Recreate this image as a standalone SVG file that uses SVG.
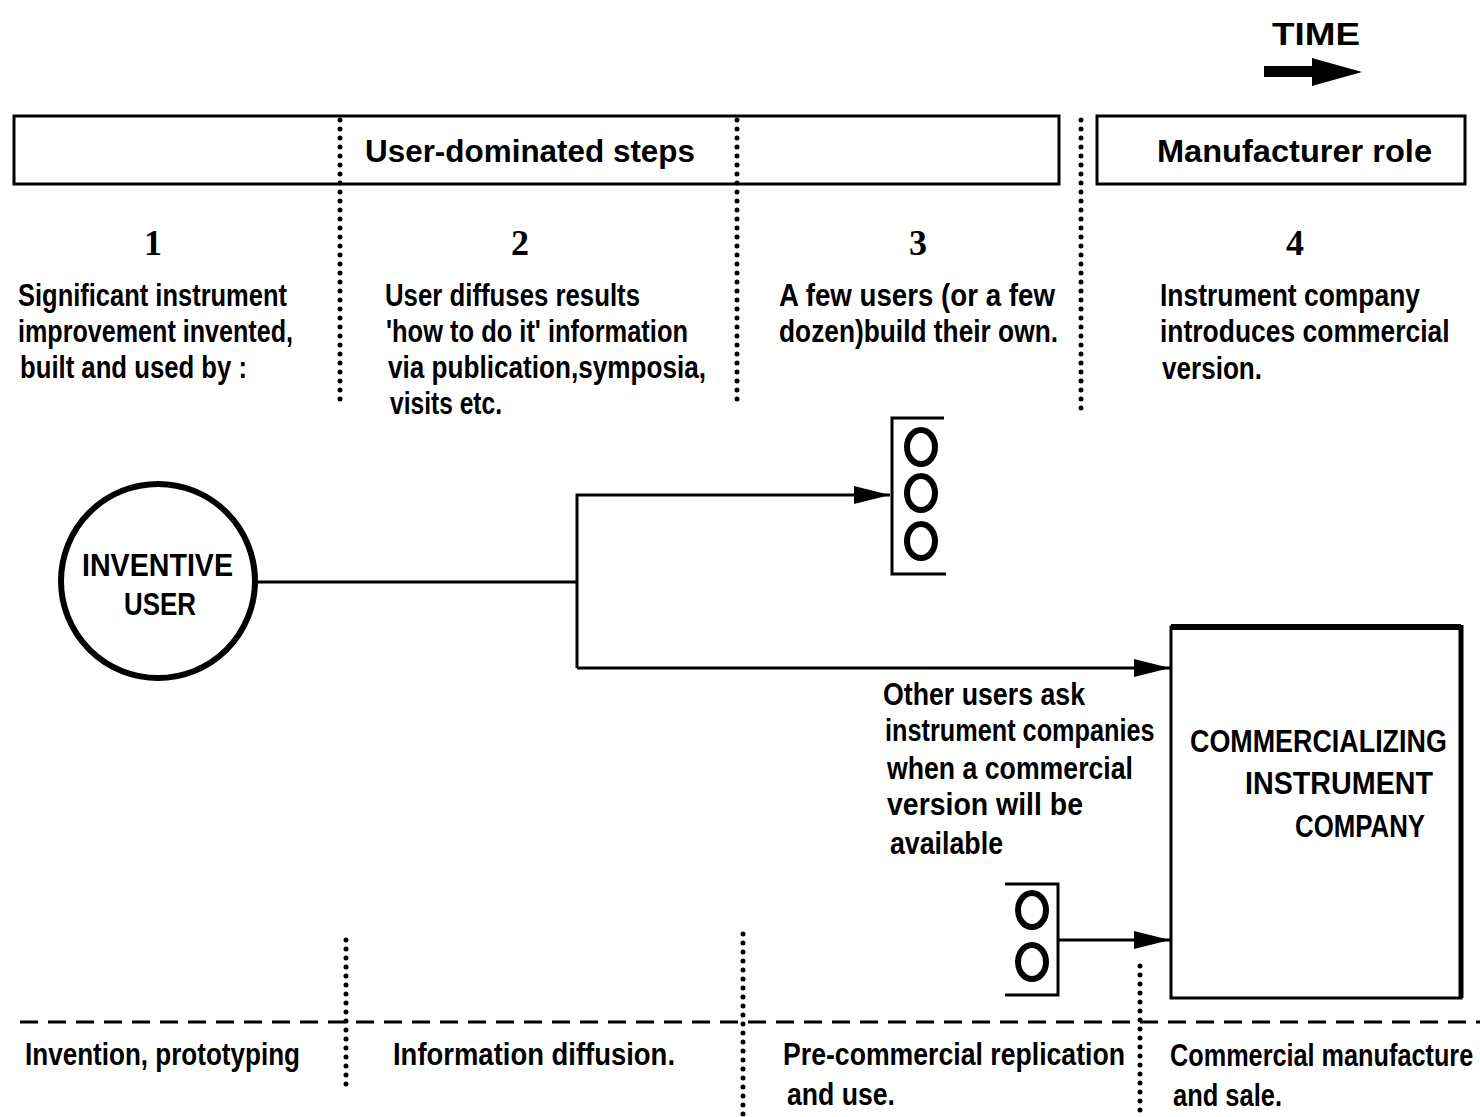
<svg xmlns="http://www.w3.org/2000/svg" width="1480" height="1117" viewBox="0 0 1480 1117">
<defs>
<marker id="ah" markerWidth="36" markerHeight="18" refX="36" refY="9" orient="auto" markerUnits="userSpaceOnUse">
<path d="M0,0 L36,9 L0,18 Z" fill="#000"/>
</marker>
</defs>
<style>
.t{font-family:"Liberation Sans",Arial,sans-serif;font-weight:bold;font-size:32px;fill:#000}
.n{font-family:"Liberation Serif","Times New Roman",serif;font-weight:bold;font-size:36px;fill:#000;text-anchor:middle}
.dot{stroke:#000;stroke-width:5;stroke-linecap:round;stroke-dasharray:0 9;fill:none}
.dash{stroke:#000;stroke-width:3;stroke-dasharray:18 10;fill:none}
.ln{stroke:#000;stroke-width:3;fill:none}
.oc{stroke:#000;stroke-width:6;fill:none}
</style>
<rect width="1480" height="1117" fill="#fff"/>

<g id="time">
<text class="t" x="1272" y="45" textLength="88" lengthAdjust="spacingAndGlyphs">TIME</text>
<rect x="1264" y="66" width="50" height="11" fill="#000"/>
<path d="M1312,58 L1362,72 L1312,86 Z" fill="#000"/>
</g>

<g id="header-user">
<rect x="14" y="116" width="1045" height="68" class="ln"/>
<text class="t" x="365" y="162" textLength="330" lengthAdjust="spacingAndGlyphs">User-dominated steps</text>
</g>
<g id="header-manufacturer">
<rect x="1097" y="116" width="368" height="68" class="ln"/>
<text class="t" x="1157" y="162" textLength="275" lengthAdjust="spacingAndGlyphs">Manufacturer role</text>
</g>

<g id="dividers">
<line class="dot" x1="340" y1="120" x2="340" y2="400"/>
<line class="dot" x1="737" y1="120" x2="737" y2="405"/>
<line class="dot" x1="1081" y1="120" x2="1081" y2="410"/>
<line class="dot" x1="346" y1="940" x2="346" y2="1090"/>
<line class="dot" x1="743" y1="934" x2="743" y2="1117"/>
<line class="dot" x1="1140" y1="966" x2="1140" y2="1117"/>
<line class="dash" x1="20" y1="1022" x2="1480" y2="1022"/>
</g>

<g id="step1">
<text class="n" x="153" y="255">1</text>
<text class="t" x="18" y="306" textLength="269" lengthAdjust="spacingAndGlyphs">Significant instrument</text>
<text class="t" x="18" y="342" textLength="275" lengthAdjust="spacingAndGlyphs">improvement invented,</text>
<text class="t" x="20" y="378" textLength="227" lengthAdjust="spacingAndGlyphs">built and used by :</text>
</g>
<g id="step2">
<text class="n" x="520" y="255">2</text>
<text class="t" x="385" y="306" textLength="255" lengthAdjust="spacingAndGlyphs">User diffuses results</text>
<text class="t" x="386" y="342" textLength="302" lengthAdjust="spacingAndGlyphs">'how to do it' information</text>
<text class="t" x="388" y="378" textLength="318" lengthAdjust="spacingAndGlyphs">via publication,symposia,</text>
<text class="t" x="390" y="414" textLength="112" lengthAdjust="spacingAndGlyphs">visits etc.</text>
</g>
<g id="step3">
<text class="n" x="918" y="255">3</text>
<text class="t" x="779" y="306" textLength="276" lengthAdjust="spacingAndGlyphs">A few users (or a few</text>
<text class="t" x="779" y="342" textLength="279" lengthAdjust="spacingAndGlyphs">dozen)build their own.</text>
</g>
<g id="step4">
<text class="n" x="1295" y="255">4</text>
<text class="t" x="1160" y="306" textLength="260" lengthAdjust="spacingAndGlyphs">Instrument company</text>
<text class="t" transform="translate(1160,342) scale(0.8,1)" x="0" y="0" textLength="362" lengthAdjust="spacingAndGlyphs">introduces commercial</text>
<text class="t" x="1162" y="379" textLength="100" lengthAdjust="spacingAndGlyphs">version.</text>
</g>

<g id="inventive-user">
<circle cx="158" cy="581" r="97" stroke="#000" stroke-width="6" fill="none"/>
<text class="t" x="82" y="576" textLength="151" lengthAdjust="spacingAndGlyphs">INVENTIVE</text>
<text class="t" x="124" y="615" textLength="72" lengthAdjust="spacingAndGlyphs">USER</text>
</g>

<g id="few-users">
<path class="ln" d="M944,418 L892,418 L892,574 L946,574"/>
<ellipse class="oc" cx="921" cy="447" rx="14" ry="17"/>
<ellipse class="oc" cx="921" cy="493" rx="14" ry="17"/>
<ellipse class="oc" cx="921" cy="541" rx="14" ry="17"/>
</g>

<g id="other-users">
<path class="ln" d="M1005,884 L1058,884 L1058,995 L1005,995"/>
<ellipse class="oc" cx="1032" cy="910" rx="14" ry="17"/>
<ellipse class="oc" cx="1032" cy="962" rx="14" ry="17"/>
</g>

<g id="company">
<path d="M1171,998 L1171,627 L1461,627 L1461,998 Z" stroke="#000" stroke-width="3" fill="none"/>
<line x1="1171" y1="627" x2="1461" y2="627" stroke="#000" stroke-width="6"/>
<line x1="1461" y1="625" x2="1461" y2="998" stroke="#000" stroke-width="5"/>
<text class="t" transform="translate(1190,752) scale(0.8,1)" x="0" y="0" textLength="321" lengthAdjust="spacingAndGlyphs">COMMERCIALIZING</text>
<text class="t" x="1245" y="794" textLength="188" lengthAdjust="spacingAndGlyphs">INSTRUMENT</text>
<text class="t" x="1295" y="837" textLength="130" lengthAdjust="spacingAndGlyphs">COMPANY</text>
</g>

<g id="connectors">
<line class="ln" x1="256" y1="582" x2="577" y2="582"/>
<path class="ln" d="M577,668 L577,495 L890,495" marker-end="url(#ah)"/>
<path class="ln" d="M577,668 L1170,668" marker-end="url(#ah)"/>
<path class="ln" d="M1058,940 L1170,940" marker-end="url(#ah)"/>
</g>

<g id="other-users-label">
<text class="t" x="883" y="705" textLength="202" lengthAdjust="spacingAndGlyphs">Other users ask</text>
<text class="t" transform="translate(885,741) scale(0.8,1)" x="0" y="0" textLength="337" lengthAdjust="spacingAndGlyphs">instrument companies</text>
<text class="t" x="887" y="779" textLength="246" lengthAdjust="spacingAndGlyphs">when a commercial</text>
<text class="t" x="887" y="815" textLength="196" lengthAdjust="spacingAndGlyphs">version will be</text>
<text class="t" x="890" y="854" textLength="113" lengthAdjust="spacingAndGlyphs">available</text>
</g>

<g id="phases">
<text class="t" x="25" y="1065" textLength="275" lengthAdjust="spacingAndGlyphs">Invention, prototyping</text>
<text class="t" x="393" y="1065" textLength="282" lengthAdjust="spacingAndGlyphs">Information diffusion.</text>
<text class="t" x="783" y="1065" textLength="342" lengthAdjust="spacingAndGlyphs">Pre-commercial replication</text>
<text class="t" x="787" y="1105" textLength="108" lengthAdjust="spacingAndGlyphs">and use.</text>
<text class="t" transform="translate(1170,1066) scale(0.8,1)" x="0" y="0" textLength="379" lengthAdjust="spacingAndGlyphs">Commercial manufacture</text>
<text class="t" x="1173" y="1106" textLength="109" lengthAdjust="spacingAndGlyphs">and sale.</text>
</g>
</svg>
